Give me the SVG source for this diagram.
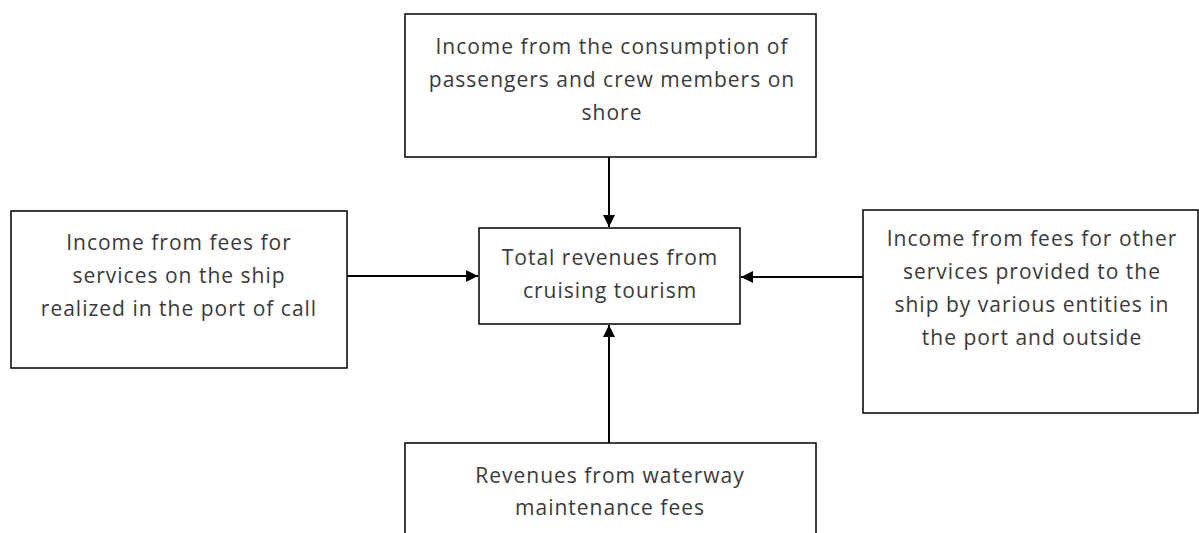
<svg xmlns="http://www.w3.org/2000/svg" width="1199" height="533" viewBox="0 0 1199 533">
<defs>
<style>
.box{fill:#fff;stroke:#000;stroke-width:1.5}
.t{font-family:"Open Sans","Liberation Sans",sans-serif;font-size:21px;letter-spacing:1px;fill:#3a3a3a;text-anchor:middle}
.c{stroke:#000;stroke-width:2;fill:none}
</style>
<marker id="ah" viewBox="0 0 10 10" refX="10" refY="5" markerWidth="6" markerHeight="6" orient="auto" markerUnits="strokeWidth">
<path d="M0,0 L10,5 L0,10 z" fill="#000"/>
</marker>
</defs>
<rect width="1199" height="533" fill="#fff"/>
<g id="top">
<rect class="box" x="405" y="14" width="411" height="143"/>
<text class="t" x="612" y="54">Income from the consumption of</text>
<text class="t" x="612" y="87">passengers and crew members on</text>
<text class="t" x="612" y="120">shore</text>
</g>
<g id="left">
<rect class="box" x="11" y="211" width="336" height="157"/>
<text class="t" x="179" y="250">Income from fees for</text>
<text class="t" x="179" y="283">services on the ship</text>
<text class="t" x="179" y="316">realized in the port of call</text>
</g>
<g id="center">
<rect class="box" x="479" y="228" width="261" height="96"/>
<text class="t" x="610" y="265">Total revenues from</text>
<text class="t" x="610" y="298">cruising tourism</text>
</g>
<g id="right">
<rect class="box" x="863" y="210" width="335" height="203"/>
<text class="t" x="1032" y="246">Income from fees for other</text>
<text class="t" x="1032" y="279">services provided to the</text>
<text class="t" x="1032" y="312">ship by various entities in</text>
<text class="t" x="1032" y="345">the port and outside</text>
</g>
<g id="bottom">
<rect class="box" x="405" y="443" width="411" height="100"/>
<text class="t" x="610" y="483">Revenues from waterway</text>
<text class="t" x="610" y="515">maintenance fees</text>
</g>
<g id="connectors">
<line class="c" x1="609" y1="157" x2="609" y2="227" marker-end="url(#ah)"/>
<line class="c" x1="609" y1="443" x2="609" y2="325" marker-end="url(#ah)"/>
<line class="c" x1="347" y1="276" x2="478" y2="276" marker-end="url(#ah)"/>
<line class="c" x1="863" y1="277" x2="741" y2="277" marker-end="url(#ah)"/>
</g>
</svg>
